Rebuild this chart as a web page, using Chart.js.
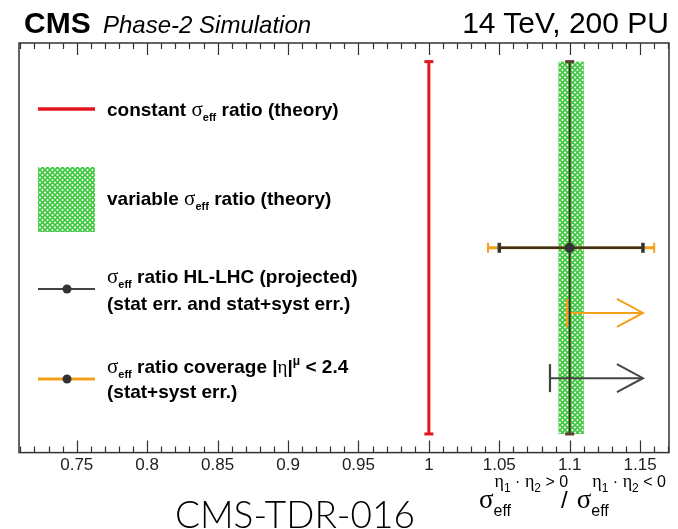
<!DOCTYPE html>
<html>
<head>
<meta charset="UTF-8">
<title>sigma_eff ratio</title>
<script src="https://cdn.jsdelivr.net/npm/chart.js"></script>
<style>
  body { margin: 0; background: #fff; font-family: "Liberation Sans", Arial, sans-serif; }
  #wrap { position: relative; width: 678px; height: 529px; overflow: hidden; }
  canvas { position: absolute; left: 0; top: 0; }
  .t { position: absolute; white-space: nowrap; color: #000; line-height: 1; }
  .leg { font-weight: bold; font-size: 19px; }
  .sg { font-family: "Liberation Serif", serif; font-weight: normal; font-size: 21px; }
  .eff { font-size: 11px; position: relative; top: 5px; font-weight: bold; }
  .sup { font-size: 12px; position: relative; top: -8px; }
  .ttl .sg { font-size: 27px; }
  .stack { display: inline-block; position: relative; vertical-align: baseline; }
  .stack .hi { position: absolute; left: 1px; top: -18px; font-size: 18px; font-family: "Liberation Serif", serif; }
  .stack .lo { font-size: 16px; position: relative; top: 8px; }
  .hi sub { font-size: 12px; font-family: "Liberation Sans", sans-serif; }
  .hi .op { font-family: "Liberation Sans", sans-serif; font-size: 16px; }
</style>
</head>
<body>
<div id="wrap">
  <canvas id="grafico" width="678" height="529"></canvas>

  <div class="t" style="left:24px; top:8px; font-size:30px; font-weight:bold;">CMS</div>
  <div class="t" style="left:103px; top:13px; font-size:24px; font-style:italic;">Phase-2 Simulation</div>
  <div class="t" style="right:9px; top:8px; font-size:30px;">14 TeV, 200 PU</div>

  <div class="t leg" style="left:107px; top:99px;">constant <span class="sg">σ</span><span class="eff">eff</span> ratio (theory)</div>
  <div class="t leg" style="left:107px; top:188px;">variable <span class="sg">σ</span><span class="eff">eff</span> ratio (theory)</div>
  <div class="t leg" style="left:107px; top:266px;"><span class="sg">σ</span><span class="eff">eff</span> ratio HL-LHC (projected)</div>
  <div class="t leg" style="left:107px; top:294px;">(stat err. and stat+syst err.)</div>
  <div class="t leg" style="left:107px; top:356px;"><span class="sg">σ</span><span class="eff">eff</span> ratio coverage |<span class="sg" style="font-size:19px">η</span>|<span class="sup">μ</span> &lt; 2.4</div>
  <div class="t leg" style="left:107px; top:382px;">(stat+syst err.)</div>

  <div class="t ttl" style="left:479px; top:486px; font-size:22px;">
    <span class="sg">σ</span><span class="stack"><span class="hi">η<sub>1</sub><span class="op"> · </span>η<sub>2</sub><span class="op"> &gt; 0</span></span><span class="lo">eff</span></span><span style="display:inline-block;width:50px"></span><span style="font-size:24px; margin-right:9px;">/</span><span class="sg">σ</span><span class="stack"><span class="hi">η<sub>1</sub><span class="op"> · </span>η<sub>2</sub><span class="op"> &lt; 0</span></span><span class="lo">eff</span></span>
  </div>

  <div class="t" style="left:175px; top:495px; font-size:37px; font-family:Lato, sans-serif; font-weight:300;">CMS-TDR-016</div>
</div>

<script>
  // valores
  const xTicks = [0.75, 0.8, 0.85, 0.9, 0.95, 1, 1.05, 1.1, 1.15];
  const xRange = [0.709, 1.1705];
  const yRange = [-0.05, 1.05];

  const constantRatio = [1.0];          // razao constante (teoria)
  const theorySpan = [0, 1];            // extensao vertical das linhas teoricas
  const variableBand = [1.092, 1.110];  // razao variavel (teoria)
  const projected = [1.1, 0.5];         // ponto HL-LHC (x, y)
  const statSystErr = [1.05, 1.152];
  const coverageErr = [1.042, 1.16];
  const limitY = [0.325, 0.15];         // cobertura |eta| < 2.4, stat+syst
  const limitStart = [1.098, 1.086];
  const limitEnd = [1.152, 1.152];

  const RED = '#e3161d', ORANGE = '#f5a01a', DARK = '#333333', BROWN = '#3b2e22', GREEN = '#3ec93e';

  // padrao hachurado verde
  function makeHatch(ctx) {
    const c = document.createElement('canvas');
    c.width = 5; c.height = 5;
    const g = c.getContext('2d');
    g.fillStyle = '#fff';
    g.fillRect(0, 0, 5, 5);
    g.strokeStyle = GREEN;
    g.lineWidth = 1.7;
    g.beginPath();
    g.moveTo(-1, -1); g.lineTo(6, 6);
    g.moveTo(6, -1); g.lineTo(-1, 6);
    g.stroke();
    return ctx.createPattern(c, 'repeat');
  }

  function seg(x1, y1, x2, y2) {
    return [{ x: x1, y: y1 }, { x: x2, y: y2 }];
  }

  const lineDs = (data, color, width, order) => ({
    data, borderColor: color, borderWidth: width, pointRadius: 0,
    showLine: true, fill: false, order, borderCapStyle: 'butt'
  });

  const extras = {
    id: 'extras',
    beforeDatasetsDraw(chart) {
      const { ctx, scales: { x, y } } = chart;
      const hatch = makeHatch(ctx);
      ctx.save();
      ctx.fillStyle = hatch;
      const x0 = x.getPixelForValue(variableBand[0]);
      const x1 = x.getPixelForValue(variableBand[1]);
      const yt = y.getPixelForValue(theorySpan[1]);
      const yb = y.getPixelForValue(theorySpan[0]);
      ctx.fillRect(x0, yt, x1 - x0, yb - yt);

      // simbolos da legenda
      ctx.lineCap = 'butt';
      ctx.fillRect(38, 167, 57, 65);
      ctx.strokeStyle = RED; ctx.lineWidth = 3.5;
      ctx.beginPath(); ctx.moveTo(38, 109); ctx.lineTo(95, 109); ctx.stroke();
      ctx.strokeStyle = '#444'; ctx.lineWidth = 2;
      ctx.beginPath(); ctx.moveTo(38, 289); ctx.lineTo(95, 289); ctx.stroke();
      ctx.strokeStyle = ORANGE; ctx.lineWidth = 3;
      ctx.beginPath(); ctx.moveTo(38, 379); ctx.lineTo(95, 379); ctx.stroke();
      ctx.fillStyle = DARK;
      [289, 379].forEach(py => { ctx.beginPath(); ctx.arc(67, py, 4.5, 0, Math.PI * 2); ctx.fill(); });
      ctx.restore();
    },
    afterDatasetsDraw(chart) {
      const { ctx, scales: { x, y } } = chart;
      ctx.save();
      const hcap = (v, yv, half, w, color) => {
        const px = x.getPixelForValue(v), py = y.getPixelForValue(yv);
        ctx.strokeStyle = color; ctx.lineWidth = w;
        ctx.beginPath(); ctx.moveTo(px - half, py); ctx.lineTo(px + half, py); ctx.stroke();
      };
      const vcap = (v, yv, half, w, color) => {
        const px = x.getPixelForValue(v), py = y.getPixelForValue(yv);
        ctx.strokeStyle = color; ctx.lineWidth = w;
        ctx.beginPath(); ctx.moveTo(px, py - half); ctx.lineTo(px, py + half); ctx.stroke();
      };
      theorySpan.forEach(yv => {
        hcap(constantRatio[0], yv, 4.5, 3, RED);
        hcap(projected[0], yv, 4.5, 3, '#5a4030');
      });
      coverageErr.forEach(v => vcap(v, projected[1], 5, 2, ORANGE));
      statSystErr.forEach(v => vcap(v, projected[1], 5, 3.5, DARK));

      const colors = [ORANGE, '#444'];
      limitY.forEach((yv, i) => {
        vcap(limitStart[i], yv, 14, 2.2, colors[i]);
        const ex = x.getPixelForValue(limitEnd[i]), ey = y.getPixelForValue(yv);
        ctx.strokeStyle = colors[i]; ctx.lineWidth = 2;
        ctx.beginPath();
        ctx.moveTo(ex - 26, ey - 14); ctx.lineTo(ex, ey); ctx.lineTo(ex - 26, ey + 14);
        ctx.stroke();
      });
      ctx.restore();
    },
    afterDraw(chart) {
      const { ctx, chartArea: a, scales: { x } } = chart;
      ctx.save();
      ctx.strokeStyle = '#333';
      ctx.lineWidth = 1.2;
      for (let i = 71; i <= 117; i++) {
        const px = Math.round(x.getPixelForValue(i / 100)) + 0.5;
        const len = i % 5 === 0 ? 12 : 6;
        ctx.beginPath();
        ctx.moveTo(px, a.top); ctx.lineTo(px, a.top + len);
        ctx.moveTo(px, a.bottom); ctx.lineTo(px, a.bottom - len);
        ctx.stroke();
      }
      ctx.lineWidth = 1.5;
      ctx.strokeRect(a.left, a.top, a.right - a.left, a.bottom - a.top);
      ctx.restore();
    }
  };

  const ctx = document.getElementById('grafico').getContext('2d');
  const chart = new Chart(ctx, {
    type: 'scatter',
    data: {
      datasets: [
        { data: [{ x: projected[0], y: projected[1] }], pointRadius: 4.5, pointBackgroundColor: DARK, pointBorderColor: DARK, order: 0 },
        lineDs(seg(statSystErr[0], projected[1], statSystErr[1], projected[1]), '#3a3226', 2.5, 1),
        lineDs(seg(coverageErr[0], projected[1], coverageErr[1], projected[1]), ORANGE, 3, 2),
        lineDs(seg(projected[0], theorySpan[0], projected[0], theorySpan[1]), BROWN, 2, 3),
        lineDs(seg(limitStart[0], limitY[0], limitEnd[0], limitY[0]), ORANGE, 2, 4),
        lineDs(seg(limitStart[1], limitY[1], limitEnd[1], limitY[1]), '#444', 2, 4),
        lineDs(seg(constantRatio[0], theorySpan[0], constantRatio[0], theorySpan[1]), RED, 3, 5)
      ]
    },
    options: {
      responsive: false,
      animation: false,
      layout: { padding: { left: 19, right: 9, top: 43, bottom: 50 } },
      plugins: { legend: { display: false }, tooltip: { enabled: false } },
      scales: {
        x: {
          type: 'linear', min: xRange[0], max: xRange[1],
          grid: { display: false, drawTicks: false },
          border: { display: false },
          afterBuildTicks: s => { s.ticks = xTicks.map(v => ({ value: v })); },
          ticks: {
            padding: 3, color: '#222', maxRotation: 0, autoSkip: false,
            font: { family: '"Liberation Sans", Arial, sans-serif', size: 17 },
            callback: v => String(v)
          }
        },
        y: { type: 'linear', min: yRange[0], max: yRange[1], display: false }
      }
    },
    plugins: [extras]
  });
</script>
</body>
</html>
